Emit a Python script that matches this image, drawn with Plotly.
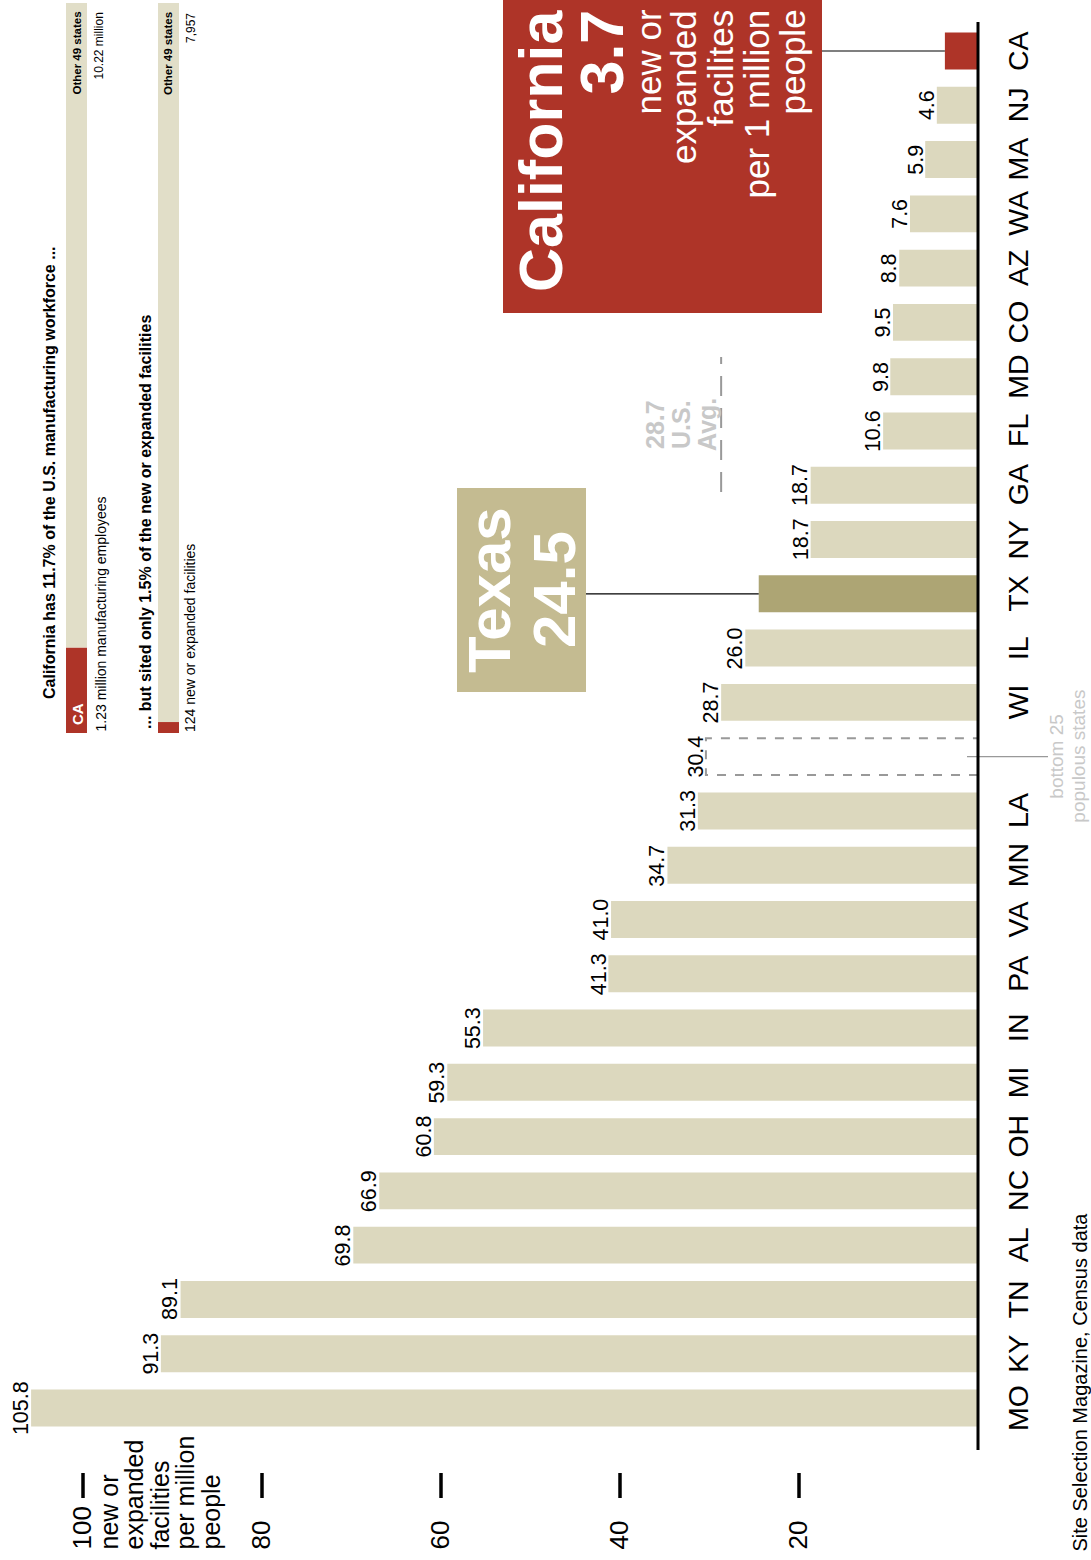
import plotly.graph_objects as go

# ---------------- data ----------------
states = ["MO", "KY", "TN", "AL", "NC", "OH", "MI", "IN", "PA", "VA", "MN", "LA",
          "bottom 25", "WI", "IL", "TX", "NY", "GA", "FL", "MD", "CO", "AZ", "WA",
          "MA", "NJ", "CA"]
rates = [105.8, 91.3, 89.1, 69.8, 66.9, 60.8, 59.3, 55.3, 41.3, 41.0, 34.7, 31.3,
         30.4, 28.7, 26.0, 24.5, 18.7, 18.7, 10.6, 9.8, 9.5, 8.8, 7.6, 5.9, 4.6, 3.7]
us_avg = 28.7
axis_ticks = [20, 40, 60, 80, 100]
axis_title_lines = ["new or", "expanded", "facilities", "per million", "people"]
ca_box_lines = ["new or", "expanded", "facilites", "per 1 million", "people"]
b25_label_lines = ["bottom 25", "populous states"]
avg_label_lines = [f"{us_avg}", "U.S.", "Avg."]

header_titles = ["California has 11.7% of the U.S. manufacturing workforce ...",
                 "... but sited only 1.5% of the new or expanded facilities"]
header_ca_share = [11.7, 1.5]
header_other_share = [88.3, 98.5]
header_ca_detail = ["1.23 million manufacturing employees", "124 new or expanded facilities"]
header_other_detail = ["10.22 million", "7,957"]
source_text = "Site Selection Magazine, Census data"

# ---------------- styling ----------------
FONT = "Liberation Sans, Arial, Helvetica, sans-serif"
BEIGE = "#DCD8BE"
HBEIGE = "#E1DEC8"
TXC = "#ADA574"
TXBOX = "#C4BB91"
RED = "#AE3428"
GREYTXT = "#C8C8C8"
GREYLINE = "#999999"

W, H = 1091, 1560
PXU = 8.95      # px per unit of value
X0PX = 978      # px of value 0
XL = X0PX / PXU
XR = XL - W / PXU
PYS = 54.28     # px per category slot
Y0PX = 1408     # px of first slot
YT = Y0PX / PYS
YB = YT - H / PYS


def vx(px):
    return XL - px / PXU


def px_(px):
    return px / W


def py_(py):
    return 1 - py / H


fig = go.Figure()

idx = list(range(len(states)))
b25 = states.index("bottom 25")
tx = states.index("TX")
ca = states.index("CA")
bar_idx = [i for i in idx if i != b25]
colors = [RED if i == ca else TXC if i == tx else BEIGE for i in bar_idx]

fig.add_trace(go.Bar(
    x=[rates[i] for i in bar_idx], y=bar_idx, orientation="h", width=0.68,
    marker=dict(color=colors, line=dict(width=0)), hoverinfo="skip"))

# header stacked bars
hx = [0, 1]
fig.add_trace(go.Bar(x=hx, y=header_ca_share, base=[0, 0], width=0.228,
                     marker=dict(color=RED, line=dict(width=0)),
                     xaxis="x2", yaxis="y2", hoverinfo="skip"))
fig.add_trace(go.Bar(x=hx, y=header_other_share, base=header_ca_share, width=0.228,
                     marker=dict(color=HBEIGE, line=dict(width=0)),
                     xaxis="x2", yaxis="y2", hoverinfo="skip"))

ann = []


def rot(text, x, y, size, color="black", xref="paper", yref="paper",
        xanchor="center", yanchor="middle", bold=False, xshift=0, yshift=0):
    t = f"<b>{text}</b>" if bold else text
    ann.append(dict(text=t, x=x, y=y, xref=xref, yref=yref, textangle=-90,
                    showarrow=False, xanchor=xanchor, yanchor=yanchor,
                    xshift=xshift, yshift=yshift,
                    font=dict(family=FONT, size=size, color=color)))


# value labels
for i in idx:
    if i in (tx, ca):
        continue
    rot(f"{rates[i]:.1f}", rates[i], i, 21.5, xref="x", yref="y",
        xanchor="right", xshift=4)

# category labels
for i in idx:
    if i == b25:
        continue
    rot(states[i], px_(1018), i, 28.5, yref="y")

# axis ticks labels
for t in axis_ticks:
    rot(str(t), t, py_(1552), 26, xref="x", yanchor="bottom", xshift=-2)

# axis title
for line, cx in zip(axis_title_lines, [108, 133.5, 159, 184.5, 210]):
    rot(line, px_(cx), py_(1552), 25, yanchor="bottom")

# bottom 25 label
for line, cx in zip(b25_label_lines, [1057, 1079]):
    rot(line, px_(cx), b25, 19, color=GREYTXT, yref="y")

# US avg label
for line, cx in zip(avg_label_lines, [655, 681, 707]):
    rot(line, px_(cx), py_(425), 25, color=GREYTXT, bold=True)

# Texas box text
rot("Texas", px_(489), py_(590), 60, color="white", bold=True)
rot(f"{rates[tx]:.1f}", px_(554), py_(590), 60, color="white", bold=True)

# California box text
rot("California", px_(541), py_(8), 61, color="white", bold=True, yanchor="top")
rot(f"{rates[ca]:.1f}", px_(602), py_(8), 61, color="white", bold=True, yanchor="top")
for line, cx in zip(ca_box_lines, [648, 684, 720, 756, 792]):
    rot(line, px_(cx), py_(8), 35, color="white", yanchor="top")

# header texts
for title, cx, bot in zip(header_titles, [49.5, 145], [701, 731]):
    rot(title, px_(cx), py_(bot), 16, bold=True, yanchor="bottom")
rot("CA", px_(77), py_(727), 15, color="white", bold=True, yanchor="bottom")
for cx in [77, 168.5]:
    rot("Other 49 states", px_(cx), py_(10), 11.5, bold=True, yanchor="top")
for text, cx in zip(header_other_detail, [99, 191]):
    rot(text, px_(cx), py_(11), 12, yanchor="top")
for text, cx in zip(header_ca_detail, [100, 190]):
    rot(text, px_(cx), py_(734), 14, yanchor="bottom")

# source
rot(source_text, px_(1079), py_(1211), 20, yanchor="top")

shapes = []
# tick marks
for t in axis_ticks:
    shapes.append(dict(type="line", xref="x", yref="paper", x0=t, x1=t,
                       y0=py_(1498), y1=py_(1473), line=dict(color="black", width=3.5)))
# Texas box and leader
shapes.append(dict(type="rect", xref="paper", yref="paper", x0=px_(457), x1=px_(586),
                   y0=py_(692), y1=py_(488), fillcolor=TXBOX, line=dict(width=0), layer="below"))
shapes.append(dict(type="line", xref="x", yref="y", x0=vx(586), x1=rates[tx], y0=tx, y1=tx,
                   line=dict(color="black", width=1.2)))
# California box and leader
shapes.append(dict(type="rect", xref="paper", yref="paper", x0=px_(503), x1=px_(822),
                   y0=py_(313), y1=py_(-5), fillcolor=RED, line=dict(width=0), layer="below"))
shapes.append(dict(type="line", xref="x", yref="y", x0=vx(822), x1=rates[ca], y0=ca, y1=ca,
                   line=dict(color="black", width=1.2)))
# bottom 25 dashed bar
shapes.append(dict(type="rect", xref="x", yref="y", x0=0, x1=rates[b25],
                   y0=b25 - 0.34, y1=b25 + 0.34,
                   line=dict(color=GREYLINE, width=2, dash="9px,9px")))
shapes.append(dict(type="line", xref="paper", yref="y", x0=px_(967), x1=px_(1048),
                   y0=b25, y1=b25, line=dict(color=GREYLINE, width=1.2)))
# US avg dashed line
shapes.append(dict(type="line", xref="x", yref="paper", x0=us_avg, x1=us_avg,
                   y0=py_(492), y1=py_(357),
                   line=dict(color=GREYLINE, width=2, dash="20px,12px")))
# baseline
shapes.append(dict(type="line", xref="x", yref="paper", x0=0, x1=0,
                   y0=py_(1450), y1=py_(22), line=dict(color="black", width=3)))

fig.update_layout(
    width=W, height=H, margin=dict(l=0, r=0, t=0, b=0, pad=0),
    paper_bgcolor="white", plot_bgcolor="rgba(0,0,0,0)",
    showlegend=False, barmode="overlay",
    xaxis=dict(range=[XL, XR], visible=False, fixedrange=True, domain=[0, 1]),
    yaxis=dict(range=[YB, YT], visible=False, fixedrange=True, domain=[0, 1]),
    xaxis2=dict(range=[-76.5 / 92, (W - 76.5) / 92], visible=False, anchor="y2",
                domain=[0, 1], fixedrange=True),
    yaxis2=dict(range=[0, 100], visible=False, anchor="x2",
                domain=[py_(733), py_(3)], fixedrange=True),
    annotations=ann, shapes=shapes,
    font=dict(family=FONT),
)

fig.write_html("out.html", config={"displayModeBar": False, "staticPlot": True},
               post_script="document.body.style.margin='0';document.body.style.overflow='hidden';")
